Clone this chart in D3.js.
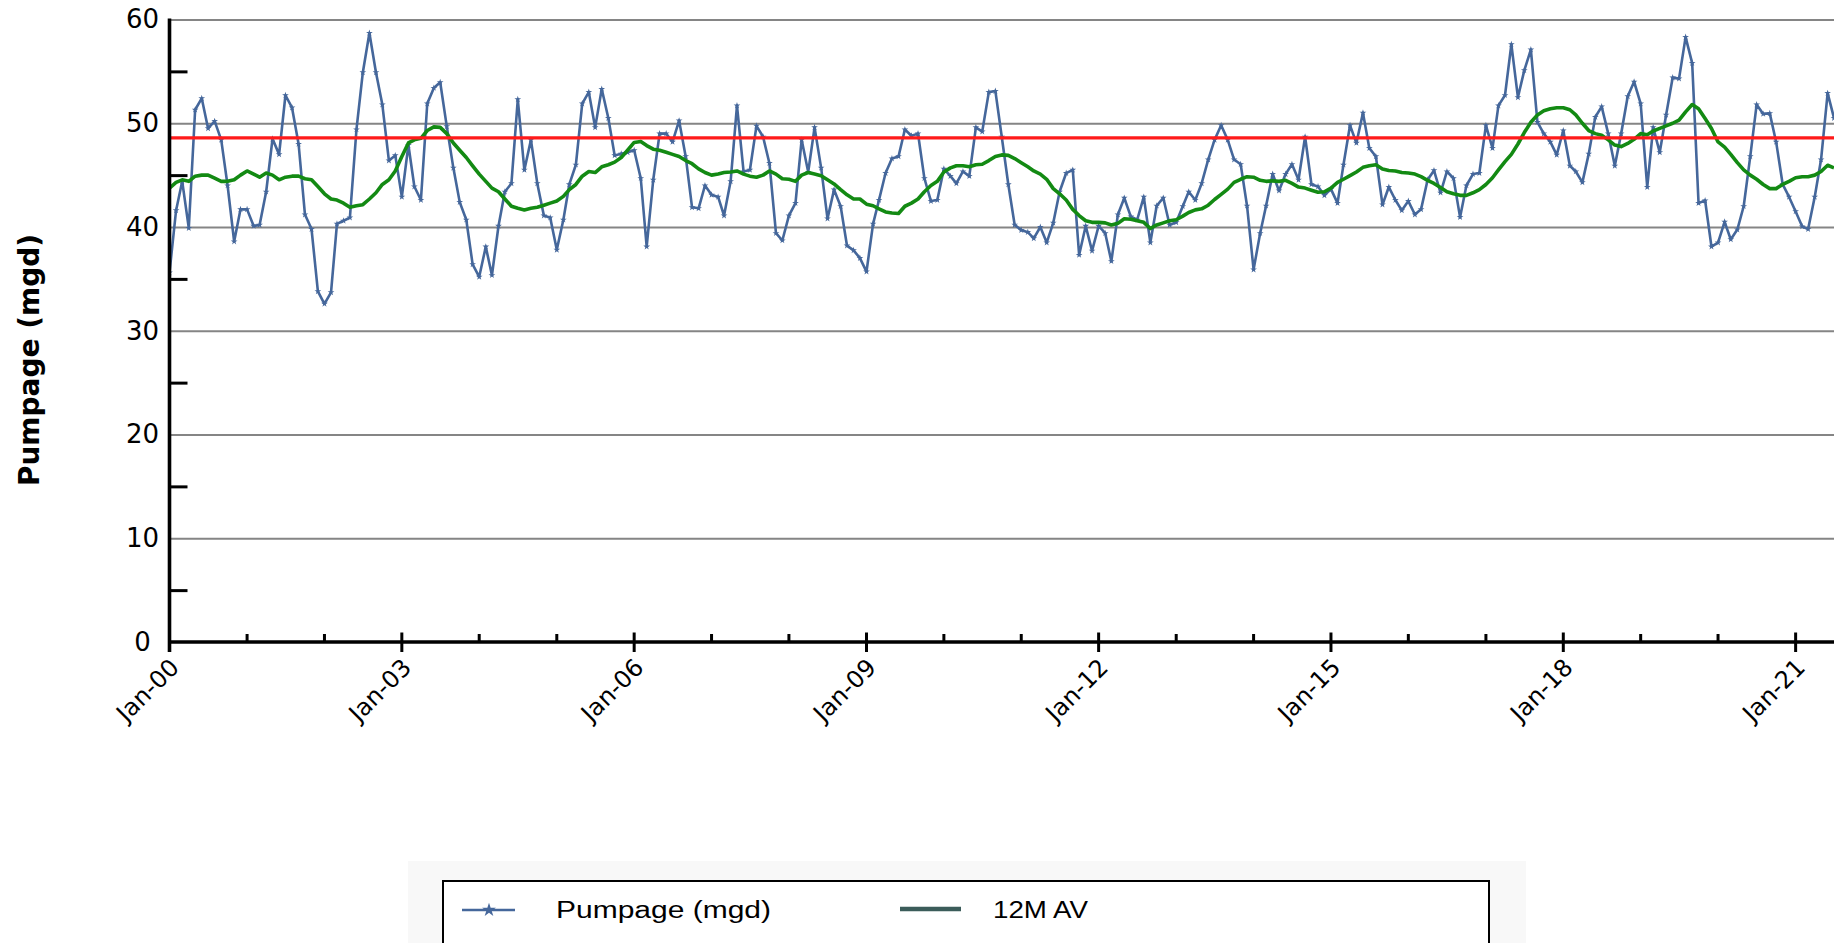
<!DOCTYPE html>
<html>
<head>
<meta charset="utf-8">
<script src="https://cdn.jsdelivr.net/npm/d3@7"></script>
<style>
  html, body { margin: 0; padding: 0; background: #ffffff; }
  svg { display: block; font-family: "DejaVu Sans", Verdana, sans-serif; }
</style>
</head>
<body>
<svg id="chart" width="1834" height="943"></svg>
<script>
// Monthly pumpage, January 2000 onwards (mgd)
const startMonth = [2000, 0];
const pumpage = [
  35.6, 41.6, 44.4, 39.9, 51.3, 52.4, 49.5, 50.2, 48.4, 44.0, 38.6, 41.7,
  41.7, 40.1, 40.2, 43.4, 48.5, 47.0, 52.7, 51.5, 48.0, 41.2, 39.8, 33.8,
  32.6, 33.7, 40.3, 40.6, 40.9, 49.4, 54.9, 58.7, 54.9, 51.8, 46.4, 46.9,
  42.9, 47.9, 43.9, 42.6, 51.9, 53.4, 53.95, 49.7, 45.7, 42.4, 40.7, 36.4,
  35.2, 38.1, 35.35, 40.1, 43.4, 44.2, 52.3, 45.5, 48.4, 44.2, 41.1, 40.9,
  37.8, 40.7, 44.1, 46.0, 51.9, 53.0, 49.6, 53.3, 50.5, 46.9, 47.05, 47.2,
  47.4, 44.7, 38.1, 44.55, 49.0, 49.0, 48.2, 50.25, 46.8, 41.9, 41.8, 44.0,
  43.1, 42.9, 41.1, 44.4, 51.7, 45.35, 45.5, 49.75, 48.7, 46.15, 39.4, 38.7,
  41.1, 42.3, 48.4, 45.3, 49.6, 45.7, 40.8, 43.6, 42.0, 38.2, 37.75, 37.0,
  35.7, 40.3, 42.6, 45.2, 46.6, 46.8, 49.4, 48.8, 49.0, 44.7, 42.5, 42.6,
  45.6, 44.9, 44.2, 45.35, 44.9, 49.6, 49.2, 53.0, 53.1, 48.7, 44.1, 40.2,
  39.7, 39.5, 38.9, 40.0, 38.5, 40.4, 43.4, 45.2, 45.5, 37.3, 40.1, 37.7,
  40.1, 39.4, 36.7, 41.2, 42.8, 41.0, 40.7, 42.9, 38.5, 42.05, 42.8, 40.2,
  40.45, 42.0, 43.4, 42.6, 44.2, 46.5, 48.4, 49.8, 48.4, 46.5, 46.05, 42.05,
  35.9, 39.4, 42.05, 45.1, 43.5, 45.1, 46.05, 44.55, 48.7, 44.1, 43.9, 43.05,
  43.65, 42.3, 46.0, 49.8, 48.1, 51.0, 47.6, 46.8, 42.15, 43.85, 42.6, 41.6,
  42.5, 41.2, 41.7, 44.55, 45.45, 43.3, 45.35, 44.7, 40.95, 44.0, 45.1, 45.2,
  49.8, 47.6, 51.7, 52.7, 57.6, 52.5, 55.1, 57.1, 50.1, 49.0, 48.2, 46.95,
  49.3, 45.9, 45.35, 44.3, 47.05, 50.6, 51.6, 49.0, 45.9, 49.0, 52.6, 54.0,
  51.9, 43.85, 49.6, 47.2, 50.8, 54.4, 54.3, 58.3, 55.8, 42.3, 42.55, 38.1,
  38.5, 40.5, 38.8, 39.75, 42.0, 46.8, 51.8, 50.9, 50.95, 48.2, 44.1, 42.9,
  41.5, 40.05, 39.8, 42.9, 46.5, 52.9, 50.5
];

// 12-month moving average (mgd)
const movingAvg12 = [
  43.75, 44.3, 44.55, 44.4, 44.9, 45.0, 45.0, 44.7, 44.4, 44.4, 44.55, 45.0,
  45.4, 45.1, 44.8, 45.2, 45.0, 44.55, 44.8, 44.9, 44.9, 44.65, 44.55, 43.9,
  43.2, 42.7, 42.6, 42.3, 41.9, 42.05, 42.15, 42.7, 43.3, 44.1, 44.55, 45.4,
  46.8, 48.1, 48.4, 48.55, 49.3, 49.65, 49.6, 49.0, 48.1, 47.4, 46.7, 45.9,
  45.1, 44.4, 43.75, 43.4, 42.7, 42.0, 41.8, 41.65, 41.8, 41.9, 42.1, 42.3,
  42.5, 42.95, 43.6, 44.1, 44.9, 45.35, 45.25, 45.8, 46.0, 46.25, 46.7, 47.4,
  48.15, 48.25, 47.85, 47.5, 47.4, 47.2, 47.0, 46.8, 46.4, 46.1, 45.6, 45.25,
  45.0, 45.1, 45.25, 45.3, 45.4, 45.1, 44.9, 44.8, 45.0, 45.4, 45.1, 44.65,
  44.6, 44.4, 45.0, 45.25, 45.1, 44.95, 44.55, 44.15, 43.6, 43.1, 42.7, 42.7,
  42.2, 42.05, 41.75, 41.45, 41.35, 41.3, 42.0, 42.3, 42.7, 43.4, 44.0, 44.4,
  45.3, 45.7, 45.9, 45.9, 45.8, 46.0, 46.05, 46.4, 46.8, 46.95, 46.9, 46.6,
  46.2, 45.8, 45.4, 45.1, 44.6, 43.7, 43.2, 42.6, 41.7, 41.1, 40.6, 40.45,
  40.45, 40.4, 40.2, 40.35, 40.8, 40.75, 40.6, 40.45, 39.85, 40.2, 40.4, 40.6,
  40.7, 41.05, 41.4, 41.65, 41.75, 42.1, 42.65, 43.15, 43.65, 44.3, 44.6, 44.85,
  44.8, 44.5, 44.4, 44.45, 44.4, 44.5, 44.2, 43.85, 43.75, 43.55, 43.35, 43.4,
  43.75, 44.3, 44.6, 44.95, 45.3, 45.75, 45.9, 46.0, 45.6, 45.45, 45.4, 45.25,
  45.2, 45.1, 44.85, 44.5, 44.2, 43.8, 43.4, 43.2, 43.05, 43.05, 43.3, 43.6,
  44.1, 44.75, 45.5, 46.3, 47.0, 48.0, 49.1, 50.1, 50.8, 51.2, 51.4, 51.5,
  51.5, 51.3, 50.8, 50.0, 49.3, 49.0, 48.85, 48.4, 47.9, 47.75, 48.05, 48.45,
  49.0, 48.9, 49.25, 49.5, 49.75, 50.0, 50.3, 51.1, 51.8, 51.4, 50.45, 49.5,
  48.2, 47.7, 47.0, 46.2, 45.5, 45.0, 44.6, 44.1, 43.7, 43.7, 44.1, 44.4,
  44.75, 44.85, 44.85, 45.0, 45.35, 45.95, 45.7
];

// Reference pumpage level (mgd)
const referenceLevel = 48.6;

// Axis ticks
const yMajorTicks = [0, 10, 20, 30, 40, 50, 60];
const yGridTicks = [10, 20, 30, 40, 50, 60];
const yMinorTicks = [5, 15, 25, 35, 45, 55];
const xLabelYears = [2000, 2003, 2006, 2009, 2012, 2015, 2018, 2021];
const xMinorYears = [2001, 2002, 2004, 2005, 2007, 2008, 2010, 2011, 2013, 2014, 2016, 2017, 2019, 2020];

const seriesNames = ["Pumpage (mgd)", "12M AV"];

// ---------------------------------------------------------------
const svg = d3.select("#chart");
const plot = { left: 169.5, top: 19.5, right: 1834, bottom: 642 };

const dates = pumpage.map((_, i) => new Date(startMonth[0], startMonth[1] + i, 1));

const x = d3.scaleTime()
  .domain([new Date(2000, 0, 1), new Date(2021, 6, 1)])
  .range([plot.left, plot.right]);
const y = d3.scaleLinear().domain([0, 60]).range([plot.bottom, plot.top]);

const BLUE = "#45679b";
const GREEN = "#138a13";
const RED = "#ff1a1a";

// Horizontal gridlines
svg.append("g")
  .attr("transform", `translate(${plot.left},0)`)
  .call(d3.axisRight(y).tickValues(yGridTicks).tickSize(plot.right - plot.left).tickFormat(""))
  .call(g => g.select(".domain").remove())
  .call(g => g.selectAll("line").attr("stroke", "#858585").attr("stroke-width", 2.2));

// Minor y ticks (inside)
svg.append("g")
  .attr("transform", `translate(${plot.left},0)`)
  .call(d3.axisRight(y).tickValues(yMinorTicks).tickSize(18).tickFormat(""))
  .call(g => g.select(".domain").remove())
  .call(g => g.selectAll("line").attr("stroke", "#000").attr("stroke-width", 3));

// Y tick labels, centred in a column left of the axis
svg.append("g")
  .attr("transform", `translate(${plot.left},0)`)
  .call(d3.axisLeft(y).tickValues(yMajorTicks).tickSize(0).tickPadding(27).tickFormat(d3.format("d")))
  .call(g => g.select(".domain").remove())
  .call(g => g.selectAll("text")
    .attr("text-anchor", "middle")
    .attr("font-family", "DejaVu Sans, Verdana, sans-serif")
    .attr("font-size", 26).attr("fill", "#000"));

// Y axis title
svg.append("text")
  .attr("transform", `translate(39,360) rotate(-90)`)
  .attr("text-anchor", "middle")
  .attr("font-size", 28)
  .attr("font-weight", "bold")
  .attr("fill", "#000")
  .text("Pumpage (mgd)");

// Data lines
svg.append("defs").append("clipPath").attr("id", "plot-clip")
  .append("rect")
  .attr("x", plot.left).attr("y", 0)
  .attr("width", plot.right - plot.left).attr("height", plot.bottom + 10);

const lineGen = d3.line().x((d, i) => x(dates[i])).y(d => y(d));

const dataLayer = svg.append("g").attr("clip-path", "url(#plot-clip)");

dataLayer.append("path")
  .datum(pumpage)
  .attr("fill", "none")
  .attr("stroke", BLUE)
  .attr("stroke-width", 2.6)
  .attr("stroke-linejoin", "round")
  .attr("d", lineGen);

const star = d3.symbol().type(d3.symbolStar).size(14);
dataLayer.append("g")
  .selectAll("path")
  .data(pumpage)
  .join("path")
  .attr("transform", (d, i) => `translate(${x(dates[i])},${y(d)})`)
  .attr("d", star)
  .attr("fill", BLUE);

dataLayer.append("path")
  .datum(movingAvg12)
  .attr("fill", "none")
  .attr("stroke", GREEN)
  .attr("stroke-width", 3.6)
  .attr("stroke-linejoin", "round")
  .attr("d", lineGen);

// Reference level
dataLayer.append("line")
  .attr("x1", plot.left).attr("x2", plot.right)
  .attr("y1", y(referenceLevel)).attr("y2", y(referenceLevel))
  .attr("stroke", RED).attr("stroke-width", 3.2);

// Y axis line
svg.append("line")
  .attr("x1", plot.left).attr("x2", plot.left)
  .attr("y1", plot.top - 1).attr("y2", plot.bottom + 10)
  .attr("stroke", "#000").attr("stroke-width", 3.6);

// X axis line and ticks
const xAxisG = svg.append("g").attr("transform", `translate(0,${plot.bottom})`);
xAxisG.append("line")
  .attr("x1", plot.left).attr("x2", plot.right)
  .attr("stroke", "#000").attr("stroke-width", 3.4);

xAxisG.selectAll("line.major")
  .data(xLabelYears)
  .join("line")
  .attr("class", "major")
  .attr("x1", d => x(new Date(d, 0, 1))).attr("x2", d => x(new Date(d, 0, 1)))
  .attr("y1", -9.5).attr("y2", 10)
  .attr("stroke", "#000").attr("stroke-width", 3);

xAxisG.selectAll("line.minor")
  .data(xMinorYears)
  .join("line")
  .attr("class", "minor")
  .attr("x1", d => x(new Date(d, 0, 1))).attr("x2", d => x(new Date(d, 0, 1)))
  .attr("y1", -8).attr("y2", 0)
  .attr("stroke", "#000").attr("stroke-width", 3);

const fmtTick = d3.timeFormat("%b-%y");
xAxisG.selectAll("text")
  .data(xLabelYears)
  .join("text")
  .attr("transform", d => `translate(${x(new Date(d, 0, 1)) + 11},${27}) rotate(-45)`)
  .attr("text-anchor", "end")
  .attr("font-size", 24)
  .attr("fill", "#000")
  .text(d => fmtTick(new Date(d, 0, 1)));

// Legend
const legend = svg.append("g").attr("font-family", "Liberation Sans, Arial, sans-serif");
legend.append("rect")
  .attr("x", 408).attr("y", 861).attr("width", 1118).attr("height", 100)
  .attr("fill", "#f8f8f8");
legend.append("rect")
  .attr("x", 443).attr("y", 881).attr("width", 1046).attr("height", 90)
  .attr("fill", "#ffffff").attr("stroke", "#000").attr("stroke-width", 2);

const legendY = 910;
legend.append("line")
  .attr("x1", 462).attr("x2", 515).attr("y1", legendY).attr("y2", legendY)
  .attr("stroke", BLUE).attr("stroke-width", 2.6);
legend.append("path")
  .attr("transform", `translate(489,${legendY})`)
  .attr("d", d3.symbol().type(d3.symbolStar).size(60))
  .attr("fill", BLUE);
legend.append("text")
  .attr("x", 556).attr("y", legendY + 8)
  .attr("font-size", 23)
  .attr("textLength", 215).attr("lengthAdjust", "spacingAndGlyphs")
  .attr("fill", "#000")
  .text(seriesNames[0]);

legend.append("line")
  .attr("x1", 900).attr("x2", 961).attr("y1", legendY - 1).attr("y2", legendY - 1)
  .attr("stroke", "#3b5c5a").attr("stroke-width", 4.5);
legend.append("text")
  .attr("x", 993).attr("y", legendY + 8)
  .attr("font-size", 23)
  .attr("textLength", 95).attr("lengthAdjust", "spacingAndGlyphs")
  .attr("fill", "#000")
  .text(seriesNames[1]);
</script>
</body>
</html>
